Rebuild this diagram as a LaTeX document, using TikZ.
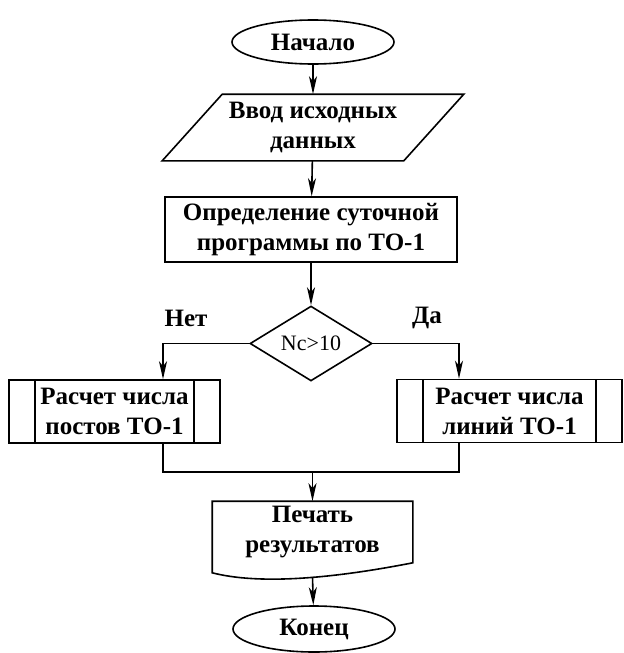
\documentclass[tikz,border=0pt]{standalone}
\usepackage{fontspec}
\setmainfont{Liberation Serif}
\usetikzlibrary{shapes.geometric,arrows.meta}

\begin{document}
\begin{tikzpicture}[x=0.5pt,y=-0.5pt,
        line width=0.8pt,
        every node/.style={font=\bfseries\fontsize{12.5}{15}\selectfont, align=center},
        arr/.style={-{Stealth[length=9pt,width=4pt,inset=2.5pt]}},
        term/.style={draw, ellipse, minimum width=81pt, minimum height=22pt, inner sep=0pt},
        procbox/.style={draw, rectangle, minimum width=146pt, minimum height=32.5pt, inner sep=0pt},
        podprog/.style={draw, rectangle, minimum height=31.5pt, inner sep=0pt,
            path picture={
                \draw ([xshift=13pt]path picture bounding box.north west) -- ([xshift=13pt]path picture bounding box.south west);
                \draw ([xshift=-13pt]path picture bounding box.north east) -- ([xshift=-13pt]path picture bounding box.south east);
            }},
        romb/.style={draw, diamond, minimum width=61pt, minimum height=31.5pt, inner sep=0pt,
            font=\fontsize{11}{13}\selectfont}]
    \useasboundingbox (0,0) rectangle (624,653);

    \node[term] (nachalo) at (313,42) {Начало};
    \node[minimum width=120pt, minimum height=32.5pt, inner sep=0pt] (vvod) at (313,127.5) {Ввод исходных\\данных};
    \node[procbox] (opr) at (311,229.5) {Определение суточной\\программы по ТО-1};
    \node[romb] (usl) at (311,343.5) {Nc>10};
    \node (net) at (186,318) {Нет};
    \node (da) at (427,318) {Да};
    \node[podprog, minimum width=105.5pt] (postov) at (114.5,411.5) {Расчет числа\\постов ТО-1};
    \node[podprog, minimum width=112.5pt] (linii) at (509.5,411) {Расчет числа\\линий ТО-1};
    \node[minimum width=99.5pt, minimum height=30pt, inner sep=0pt] (pechat) at (312.5,532) {Печать\\результатов};
    \node[term, minimum height=23pt] (konec) at (314,629) {Конец};

    % ввод данных
    \draw ([xshift=15pt]vvod.north west) -- ([xshift=15pt]vvod.north east)
        -- ([xshift=-15pt]vvod.south east) -- ([xshift=-15pt]vvod.south west) -- cycle;
    % документ
    \draw (pechat.north west) -- (pechat.north east) -- (pechat.south east)
        .. controls +(-82,16) and +(47,12) .. ([yshift=-5pt]pechat.south west) -- cycle;

    \draw[arr] (nachalo) -- (vvod);
    \draw[arr] (vvod) -- (opr);
    \draw[arr] (opr) -- (usl);
    \draw[arr] (usl.west) -| ([xshift=24.25pt]postov.north);
    \draw[arr] (usl.east) -| ([xshift=-25.25pt]linii.north);
    \coordinate (sliv) at (312.5,472);
    \draw ([xshift=24.25pt]postov.south) |- (sliv) -| ([xshift=-25.25pt]linii.south);
    \draw[arr] (sliv) -- (pechat);
    \draw[arr] ([yshift=-7pt]pechat.south) -- (konec);
\end{tikzpicture}
\end{document}
